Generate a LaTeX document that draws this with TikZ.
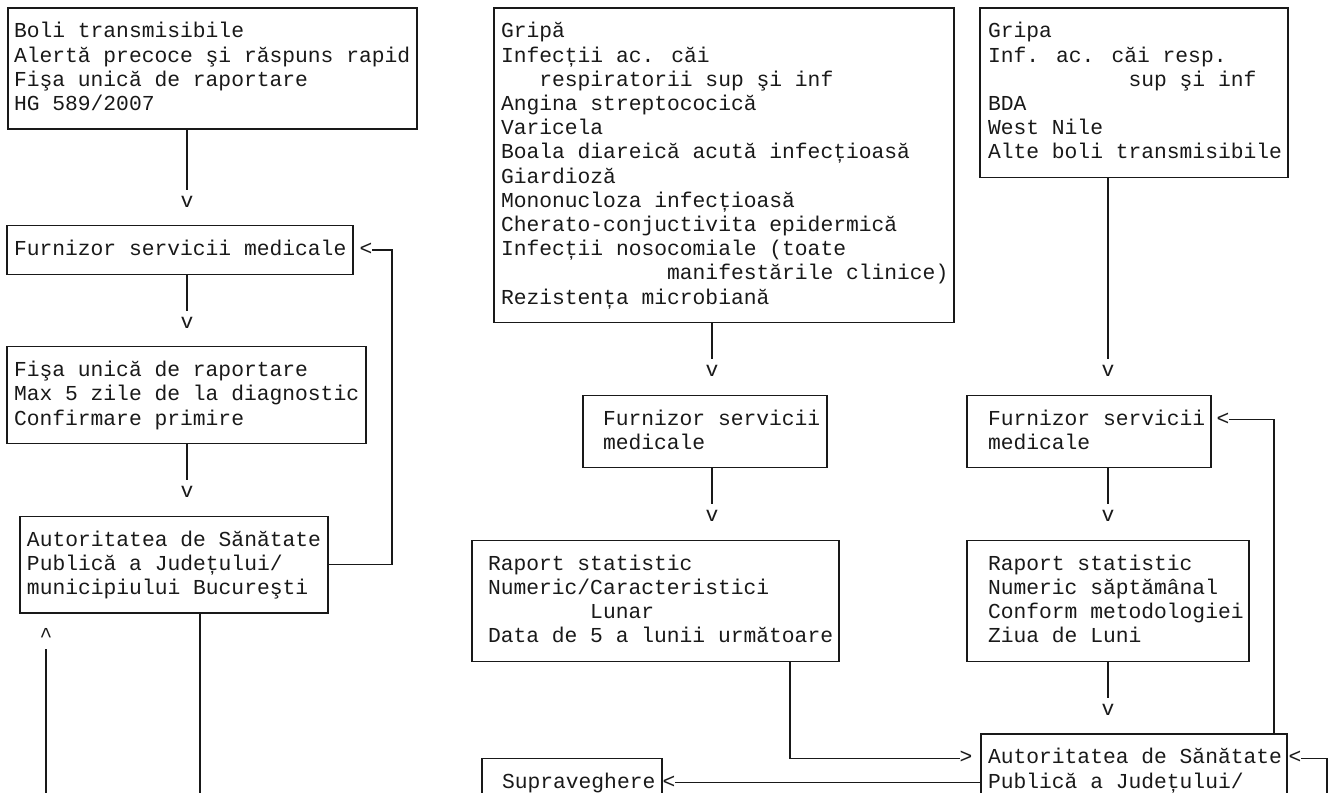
\documentclass[tikz,border=0pt]{standalone}
\usepackage{fontspec}
\newfontfamily\mono{Liberation Mono}
\newcommand\ks{\rule[-6.5pt]{0pt}{24.2pt}}
\setlength{\lineskiplimit}{-5pt}
\begin{document}
\begin{tikzpicture}[x=1pt,y=-1pt,
  box/.style={draw=black!90,line width=1.3pt,anchor=north west,inner sep=0pt,outer sep=0pt},
  txt/.style={anchor=north west,inner sep=0pt,outer sep=0pt,align=left,text=black!90,
    font=\fontsize{21.3pt}{24.2pt}\selectfont\mono},
  ch/.style={anchor=center,inner sep=0pt,outer sep=0pt,text=black!90,
    font=\fontsize{21.3pt}{24.2pt}\selectfont\mono, execute at begin node=\ks},
  conn/.style={draw=black!90,line width=1.3pt}]
\useasboundingbox (0,0) rectangle (1335,792);
\clip (0,0) rectangle (1335,792);
\fill[white] (0,0) rectangle (1335,792);
% ---------- left column ----------
\node[box,minimum width=409pt,minimum height=121pt] (b1) at (8,8) {};
\node[txt] (b1t) at (14,20.1) {\ks Boli transmisibile\\\ks Alertă precoce şi răspuns rapid\\\ks Fişa unică de raportare\\\ks HG 589/2007};
\node[ch] (a1) at (187,201.6) {v};
\node[box,minimum width=346pt,minimum height=48.4pt] (b2) at (7,225.8) {};
\node[txt] (b2t) at (14,237.9) {\ks Furnizor servicii medicale};
\node[ch] (l1) at (366,250) {<};
\node[ch] (a2) at (187,322.6) {v};
\node[box,minimum width=359pt,minimum height=96.8pt] (b3) at (7,346.8) {};
\node[txt] (b3t) at (14,358.9) {\ks Fişa unică de raportare\\\ks Max 5 zile de la diagnostic\\\ks Confirmare primire};
\node[ch] (a3) at (187,492) {v};
\node[box,minimum width=308pt,minimum height=96.8pt] (b4) at (20,516.2) {};
\node[txt] (b4t) at (27,528.3) {\ks Autoritatea de Sănătate\\\ks Publică a Județului/\\\ks municipiului Bucureşti};
\node[ch] (u1) at (46,637.2) {\^{}};
\coordinate (k1) at (392,250);
\coordinate (e1) at (46,800);
\coordinate (e2) at (200,800);
\draw[conn] (b1.south -| a1) -- (a1.north);
\draw[conn] (b2.south -| a2) -- (a2.north);
\draw[conn] (b3.south -| a3) -- (a3.north);
\draw[conn] (b4.east) -| (k1) -- (l1.east);
\draw[conn] (u1.south) -- (e1);
\draw[conn] (b4.south -| e2) -- (e2);
% ---------- middle column ----------
\node[box,minimum width=460pt,minimum height=314.6pt] (bA) at (494,8) {};
\node[txt] (bAt) at (501,20.1) {\ks Gripă\\\ks Infecții ac. căi\\\ks\hspace*{1.8em}respiratorii sup şi inf\\\ks Angina streptococică\\\ks Varicela\\\ks Boala diareică acută infecțioasă\\\ks Giardioză\\\ks Mononucloza infecțioasă\\\ks Cherato-conjuctivita epidermică\\\ks Infecții nosocomiale (toate\\\ks\hspace*{7.8em}manifestările clinice)\\\ks Rezistența microbiană};
\node[ch] (a4) at (712,371) {v};
\node[box,minimum width=244pt,minimum height=72.6pt] (bC) at (583,395.2) {};
\node[txt] (bCt) at (603,407.3) {\ks Furnizor servicii\\\ks medicale};
\node[ch] (a6) at (712,516.2) {v};
\node[box,minimum width=367pt,minimum height=121pt] (bD) at (472,540.4) {};
\node[txt] (bDt) at (488,552.5) {\ks Raport statistic\\\ks Numeric/Caracteristici\\\ks\hspace*{4.8em}Lunar\\\ks Data de 5 a lunii următoare};
\node[box,minimum width=180pt,minimum height=100pt] (bS) at (482,758.2) {};
\node[txt] (bSt) at (502,770.3) {\ks Supraveghere};
\node[ch] (l4) at (669,782.4) {<};
\coordinate (k2) at (790,758.2);
\draw[conn] (bA.south -| a4) -- (a4.north);
\draw[conn] (bC.south -| a6) -- (a6.north);
% ---------- right column ----------
\node[box,minimum width=308pt,minimum height=169.4pt] (bB) at (980,8) {};
\node[txt] (bBt) at (988,20.1) {\ks Gripa\\\ks Inf. ac. căi resp.\\\ks\hspace*{6.6em}sup şi inf\\\ks BDA\\\ks West Nile\\\ks Alte boli transmisibile};
\node[ch] (a5) at (1108,371) {v};
\node[box,minimum width=244pt,minimum height=72.6pt] (bG) at (967,395.2) {};
\node[txt] (bGt) at (988,407.3) {\ks Furnizor servicii\\\ks medicale};
\node[ch] (l2) at (1223,419.4) {<};
\node[ch] (a7) at (1108,516.2) {v};
\node[box,minimum width=282pt,minimum height=121pt] (bE) at (967,540.4) {};
\node[txt] (bEt) at (988,552.5) {\ks Raport statistic\\\ks Numeric săptămânal\\\ks Conform metodologiei\\\ks Ziua de Luni};
\node[ch] (a8) at (1108,709.8) {v};
\node[box,minimum width=306pt,minimum height=120pt] (bF) at (981,734) {};
\node[txt] (bFt) at (988,746.1) {\ks Autoritatea de Sănătate\\\ks Publică a Județului/};
\node[ch] (r1) at (966,758.2) {>};
\node[ch] (l3) at (1295,758.2) {<};
\coordinate (k3) at (1274,419.4);
\coordinate (k4) at (1327,758.2);
\coordinate (e3) at (1327,800);
\draw[conn] (bB.south -| a5) -- (a5.north);
\draw[conn] (bG.south -| a7) -- (a7.north);
\draw[conn] (bE.south -| a8) -- (a8.north);
\draw[conn] (bD.south -| k2) -- (k2) -- (r1.west);
\draw[conn] (bF.north -| k3) -- (k3) -- (l2.east);
\draw[conn] (e3) -- (k4) -- (l3.east);
\draw[conn] (bF.west |- l4) -- (l4.east);
\end{tikzpicture}
\end{document}
